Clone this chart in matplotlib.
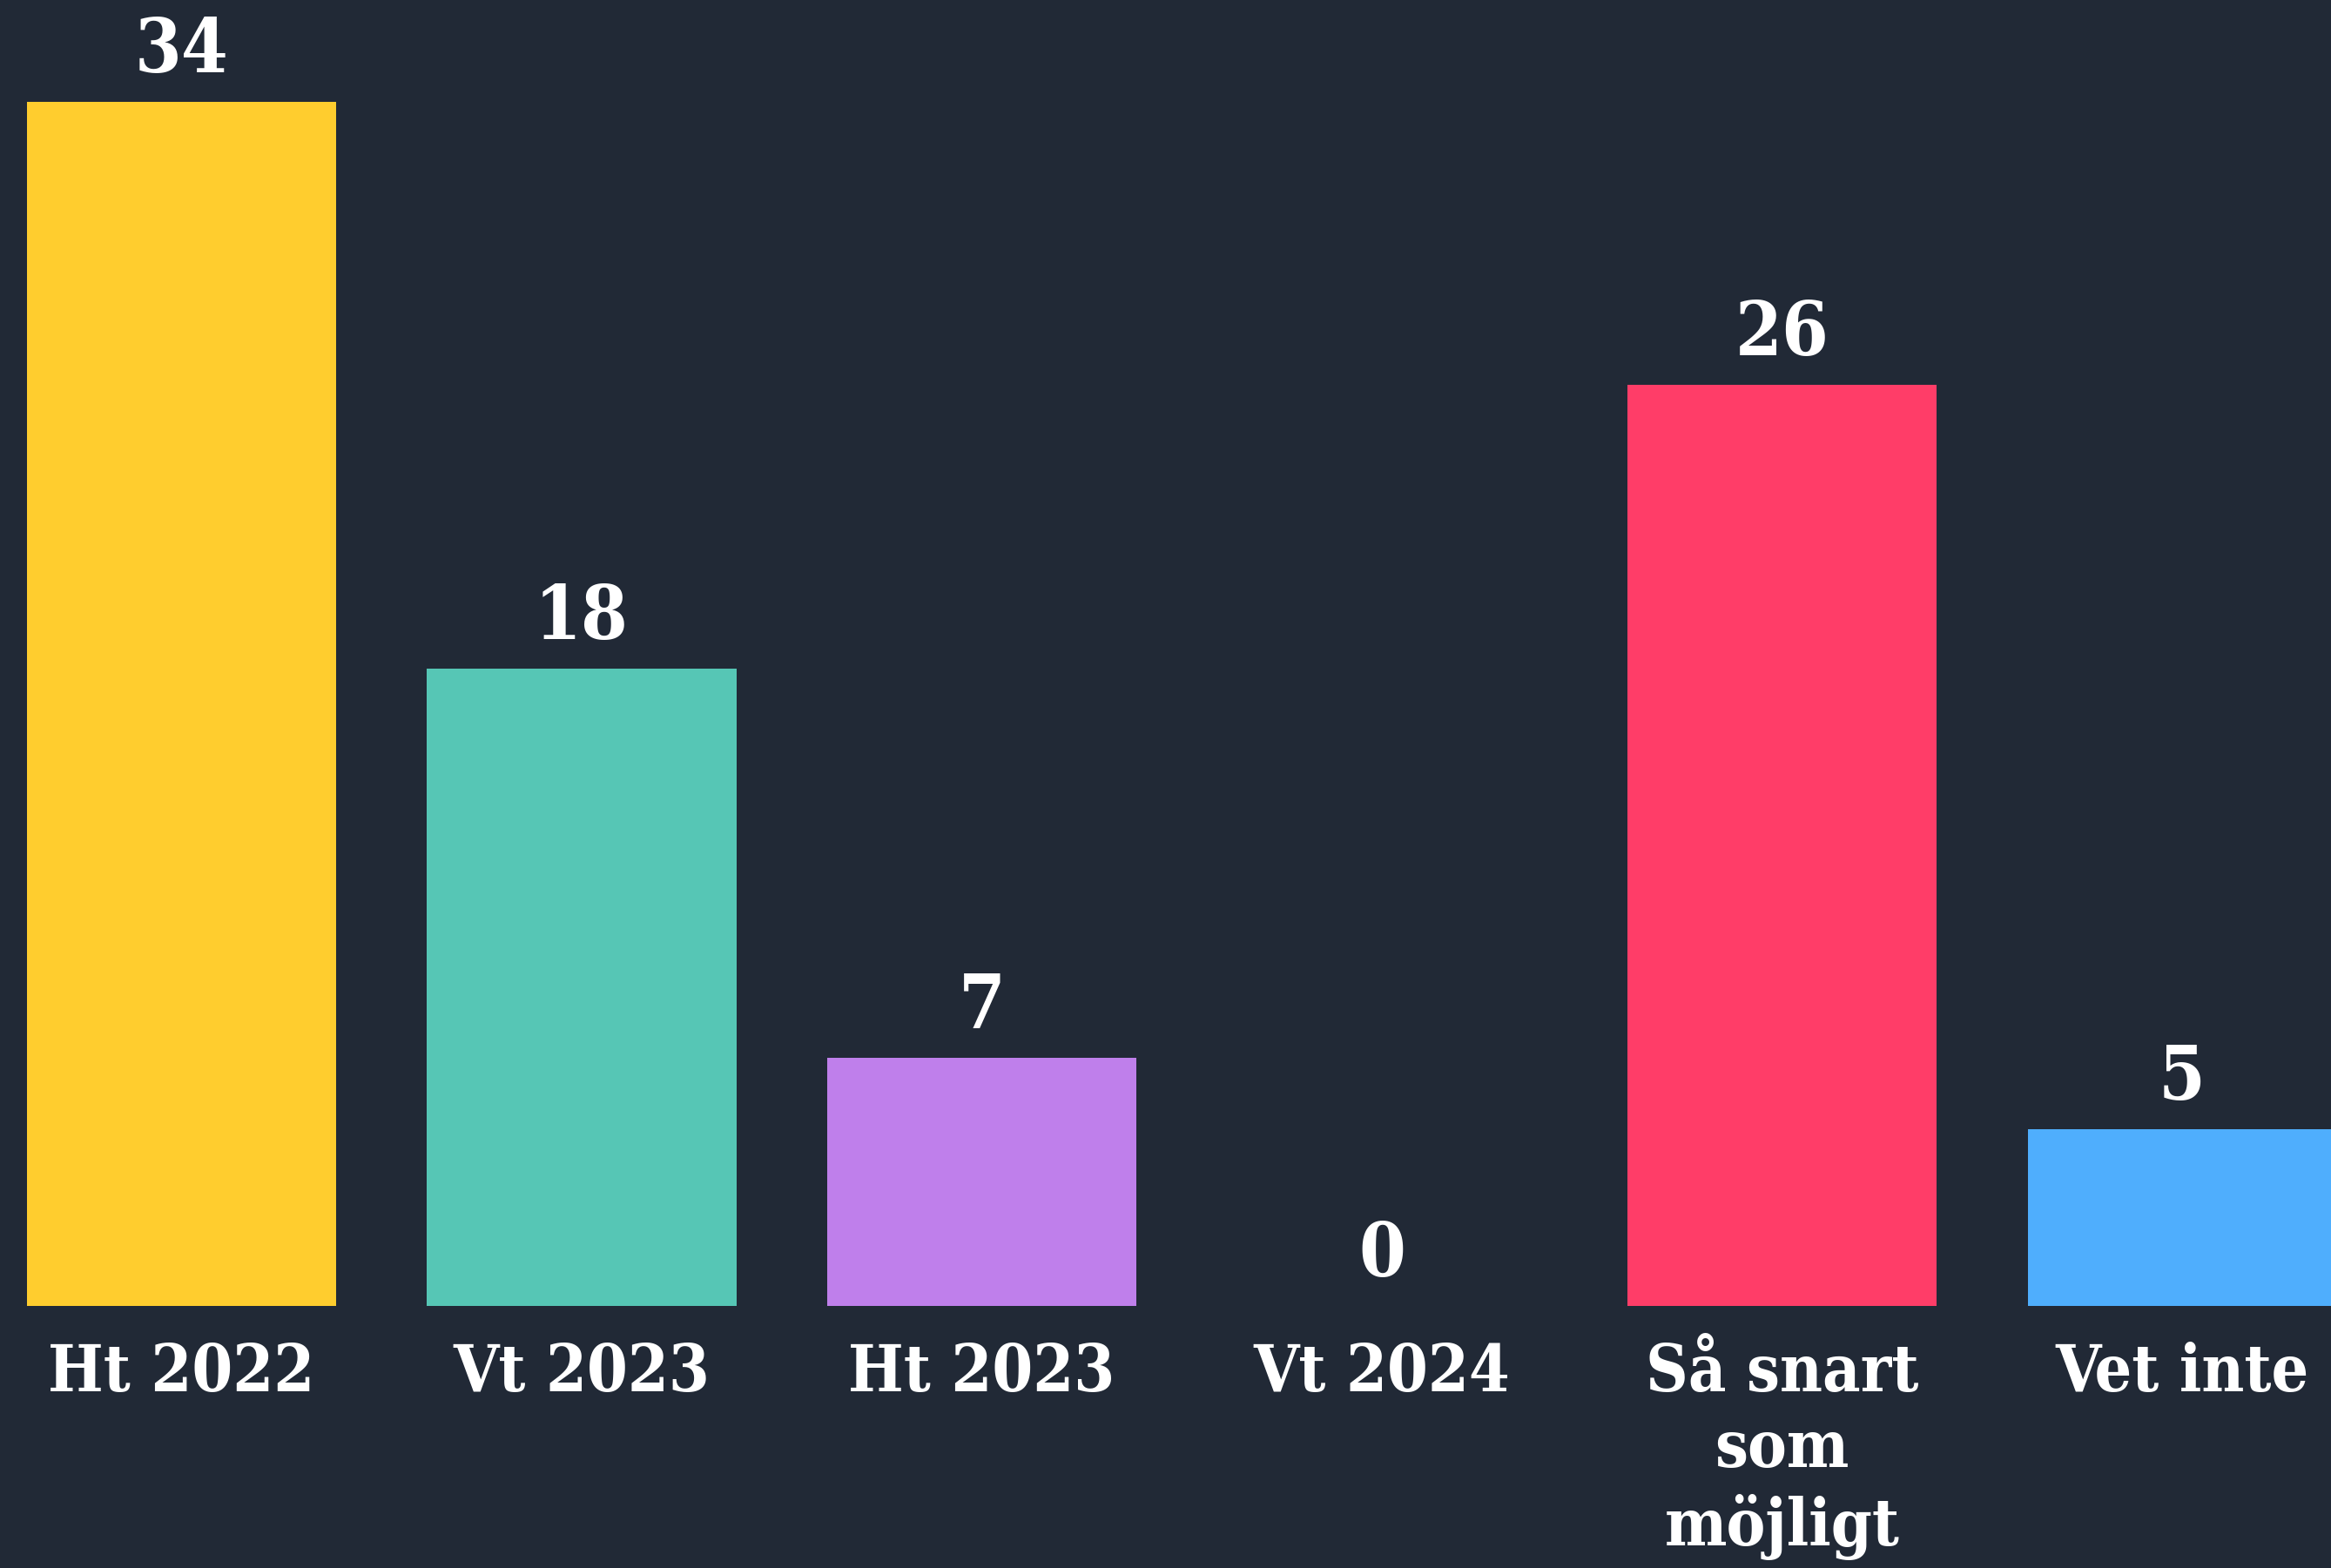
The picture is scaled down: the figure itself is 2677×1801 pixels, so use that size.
import matplotlib
matplotlib.use("Agg")
import matplotlib.pyplot as plt

categories = ["Ht 2022", "Vt 2023", "Ht 2023", "Vt 2024", "Så snart\nsom\nmöjligt", "Vet inte"]
values = [34, 18, 7, 0, 26, 5]
colors = ["#FFCD2E", "#56C6B5", "#BF7FEB", "#FF9F40", "#FF3D68", "#4FAEFD"]

bg = "#212936"

fig = plt.figure(figsize=(26.77, 18.01), dpi=100, facecolor=bg)
ax = fig.add_axes([0, 301 / 1801, 1, 1500 / 1801])
ax.set_facecolor(bg)

x = list(range(len(values)))
ax.bar(x, values, width=0.7726, color=colors)

ax.set_xlim(-0.4537, 5.372)
ax.set_ylim(0, 36.87)
ax.axis("off")

serif = dict(family="DejaVu Serif", weight="bold", stretch="condensed", color="white")

# value labels above the bars
for xi, v in zip(x, values):
    ax.annotate(str(v), (xi, v), xytext=(0, 24.5), textcoords="offset points",
                ha="center", va="baseline", fontsize=62, **serif)

# category labels below the baseline
for xi, lab in zip(x, categories):
    ax.annotate(lab, (xi, 0), xytext=(0, -29.5), textcoords="offset points",
                ha="center", va="top", fontsize=54, linespacing=1.25,
                multialignment="center", annotation_clip=False, **serif)

fig.savefig("out.png", dpi=100, facecolor=bg)
